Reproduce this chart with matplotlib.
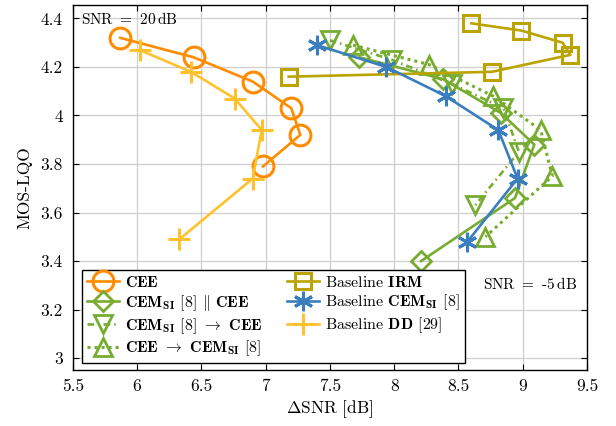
import matplotlib
matplotlib.use("Agg")
import matplotlib.pyplot as plt
from matplotlib.ticker import FuncFormatter, MultipleLocator

# (delta SNR [dB], MOS-LQO), SNR from 20 dB down to -5 dB
cee_x = [5.87, 6.44, 6.90, 7.20, 7.27, 6.98]
cee_y = [4.32, 4.24, 4.14, 4.03, 3.92, 3.79]

par_x = [7.73, 8.38, 8.83, 9.09, 8.94, 8.21]
par_y = [4.24, 4.15, 4.01, 3.88, 3.66, 3.40]

cem_cee_x = [7.50, 7.98, 8.45, 8.85, 8.97, 8.63]
cem_cee_y = [4.31, 4.23, 4.13, 4.03, 3.85, 3.63]

cee_cem_x = [7.68, 8.27, 8.77, 9.14, 9.23, 8.71]
cee_cem_y = [4.29, 4.21, 4.08, 3.94, 3.75, 3.50]

irm_x = [8.60, 8.99, 9.31, 9.37, 8.76, 7.18]
irm_y = [4.38, 4.35, 4.30, 4.25, 4.18, 4.16]

cem_x = [7.40, 7.94, 8.40, 8.81, 8.96, 8.57]
cem_y = [4.29, 4.20, 4.08, 3.94, 3.74, 3.48]

dd_x = [6.02, 6.42, 6.76, 6.97, 6.90, 6.33]
dd_y = [4.27, 4.18, 4.07, 3.94, 3.74, 3.49]

ORANGE = "#ff8c00"
GREEN = "#77ac30"
OLIVE = "#bba300"
BLUE = "#3a7ebf"
YELLOW = "#ffc12e"

plt.rcParams.update({
    "font.family": "serif",
    "font.serif": ["cmr10"],
    "mathtext.fontset": "cm",
    "axes.formatter.use_mathtext": True,
    "font.size": 11,
})

fig = plt.figure(figsize=(6.16, 4.26), dpi=100)
ax = fig.add_axes([0.118, 0.131, 0.835, 0.857])

lw = 1.9
ax.plot(cee_x, cee_y, color=ORANGE, lw=lw, marker="o", ms=15, mew=2.2,
        mfc="none", label=r"$\mathbf{CEE}$")
ax.plot(par_x, par_y, color=GREEN, lw=lw, marker="D", ms=10, mew=2,
        mfc="none", label=r"$\mathbf{CEM}_{\mathbf{SI}}$ [8] $\|$ $\mathbf{CEE}$")
ax.plot(cem_cee_x, cem_cee_y, color=GREEN, lw=lw, ls=(0, (2.5, 1.5, 0.6, 1.5)),
        marker="v", ms=13, mew=2, mfc="none",
        label=r"$\mathbf{CEM}_{\mathbf{SI}}$ [8] $\rightarrow$ $\mathbf{CEE}$")
ax.plot(cee_cem_x, cee_cem_y, color=GREEN, lw=2.2, ls=(0, (1, 1.3)),
        marker="^", ms=13, mew=2, mfc="none",
        label=r"$\mathbf{CEE}$ $\rightarrow$ $\mathbf{CEM}_{\mathbf{SI}}$ [8]")
ax.plot(irm_x, irm_y, color=OLIVE, lw=lw, marker="s", ms=12, mew=2.2,
        mfc="none", label=r"Baseline $\mathbf{IRM}$")
ax.plot(cem_x, cem_y, color=BLUE, lw=lw, marker=(6, 2, 0), ms=14, mew=2.2,
        label=r"Baseline $\mathbf{CEM}_{\mathbf{SI}}$ [8]")
ax.plot(dd_x, dd_y, color=YELLOW, lw=lw, marker="+", ms=16, mew=2.2,
        label=r"Baseline $\mathbf{DD}$ [29]")

ax.set_xlim(5.5, 9.5)
ax.set_ylim(2.95, 4.455)
ax.xaxis.set_major_locator(MultipleLocator(0.5))
ax.yaxis.set_major_locator(MultipleLocator(0.2))
fmt = FuncFormatter(lambda v, p: f"{v:g}")
ax.xaxis.set_major_formatter(fmt)
ax.yaxis.set_major_formatter(fmt)
ax.tick_params(direction="in", top=True, right=True, length=4, labelsize=12.5)
ax.tick_params(axis="y", pad=7)
ax.tick_params(axis="x", pad=6)
ax.grid(True, color="#cfcfcf", lw=0.9)
ax.set_axisbelow(True)
for s in ax.spines.values():
    s.set_linewidth(1.0)

ax.set_xlabel(r"$\Delta$SNR [dB]", fontsize=12.5, labelpad=3)
ax.set_ylabel("MOS-LQO", fontsize=12.5, labelpad=6)

ax.text(0.017, 0.985, r"SNR $=$ 20$\,$dB", transform=ax.transAxes,
        ha="left", va="top", fontsize=11)
ax.text(0.98, 0.235, r"SNR $=$ -5$\,$dB", transform=ax.transAxes,
        ha="right", va="center", fontsize=11)

leg = ax.legend(loc="lower left", bbox_to_anchor=(0.018, 0.019), ncol=2,
                fontsize=11.5, fancybox=False, edgecolor="black", framealpha=1,
                borderaxespad=0, handlelength=2.0, handletextpad=0.4,
                columnspacing=1.5, labelspacing=0.2, borderpad=0.3)
leg.get_frame().set_linewidth(1.0)

fig.savefig("out.png", dpi=100)
